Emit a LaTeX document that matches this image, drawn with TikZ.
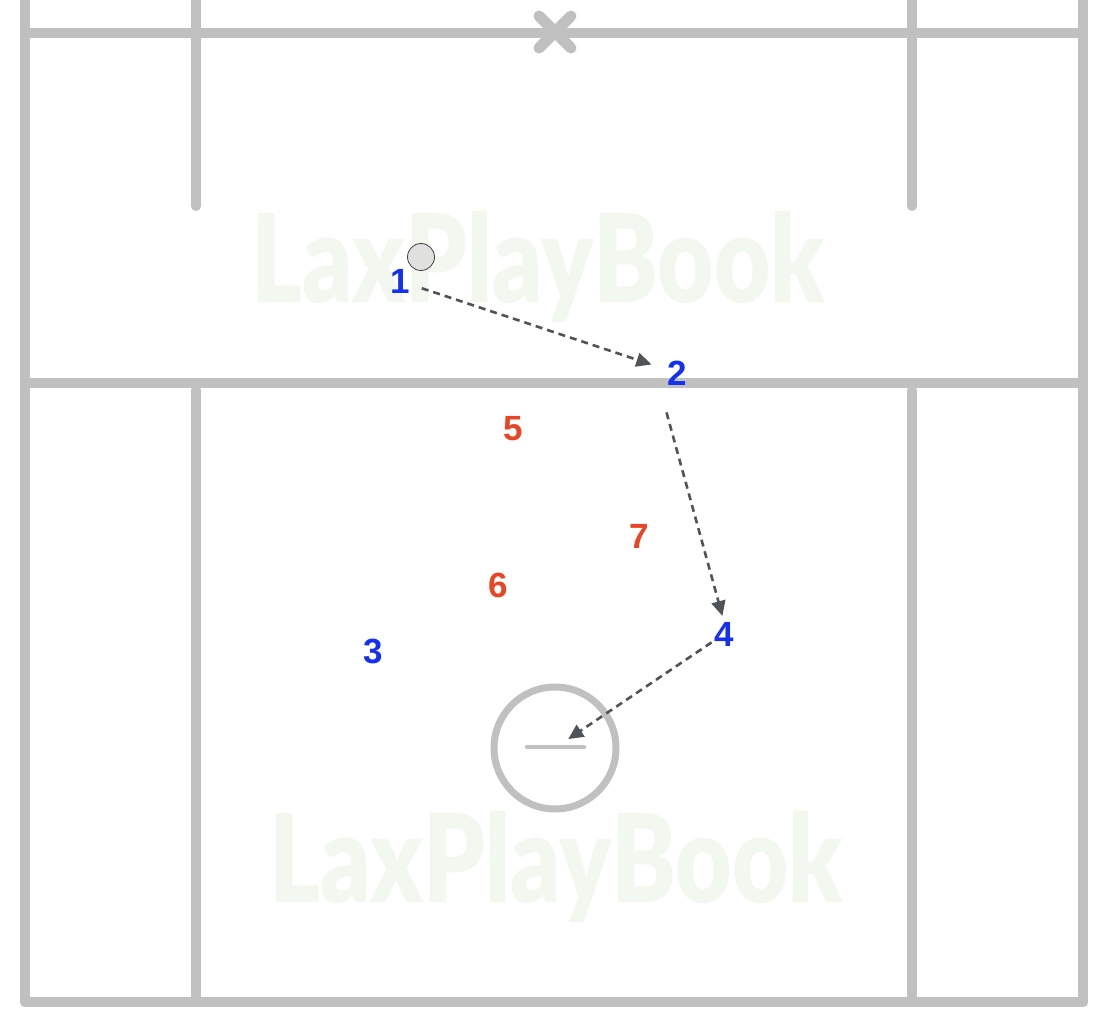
\documentclass[tikz,border=0pt]{standalone}
\usepackage{fontspec}
\setmainfont{Liberation Sans}
\newfontfamily\heavysans{Liberation Sans Bold}
\newfontfamily\wmfont{Lato Black}
\usetikzlibrary{arrows.meta}
\definecolor{fieldgray}{HTML}{C0C0C0}
\definecolor{wmgreen}{HTML}{F2F7F0}
\definecolor{pblue}{HTML}{1530F0}
\definecolor{pred}{HTML}{E84525}
\definecolor{arrgray}{HTML}{505458}
\definecolor{ballgray}{HTML}{E0E1DF}
\tikzset{
  field/.style={draw=fieldgray, line width=10pt, line cap=round},
  watermark/.style={text=wmgreen, font=\wmfont\fontsize{122}{122}\selectfont, inner sep=0pt},
  offense/.style={text=pblue, font=\heavysans\fontsize{35}{35}\selectfont, inner sep=0pt},
  defense/.style={text=pred, font=\heavysans\fontsize{35}{35}\selectfont, inner sep=0pt},
  pass/.style={draw=arrgray, line width=2.6pt, dash pattern=on 7pt off 5pt,
    -{Triangle[length=15pt,width=14pt]}},
}
\begin{document}
\begin{tikzpicture}[x=1pt,y=-1pt]
\useasboundingbox (0,0) rectangle (1104,1016);
\fill[white] (0,0) rectangle (1104,1016);
% watermarks
\node[watermark] (wm1) at (538,267) {\resizebox{573pt}{\height}{LaxPlayBook}};
\node[watermark] (wm2) at (556,867) {\resizebox{573pt}{\height}{LaxPlayBook}};
% field
\draw[field] (25,0) -- (25,1002);
\draw[field] (1083,0) -- (1083,1002);
\draw[field] (25,33) -- (1083,33);
\draw[field] (25,383) -- (1083,383);
\draw[field] (25,1002) -- (1083,1002);
\draw[field] (196,0) -- (196,206);
\draw[field] (912,0) -- (912,206);
\draw[field] (196,390) -- (196,1000);
\draw[field] (912,390) -- (912,1000);
% X at top
\draw[draw=fieldgray, line width=11pt, line cap=round] (539,16) -- (571,48);
\draw[draw=fieldgray, line width=11pt, line cap=round] (539,48) -- (571,16);
% goal
\node[draw=fieldgray, line width=7pt, circle, minimum size=122pt, inner sep=0pt] (goal) at (555,748) {};
\draw[draw=fieldgray, line width=4.5pt, line cap=round] (527,747) -- (584,747);
% ball
\node[circle, draw=black!75, line width=0.8pt, fill=ballgray, minimum size=27pt, inner sep=0pt] (ball) at (421,257) {};
% players
\node[offense] (p1) at (400,281) {1};
\node[offense] (p2) at (677,373) {2};
\node[offense] (p3) at (373,651) {3};
\node[offense] (p4) at (724,634) {4};
\node[defense] (p5) at (513,429) {5};
\node[defense] (p6) at (498,585) {6};
\node[defense] (p7) at (639,536) {7};
% passes
\draw[pass, shorten <=23pt, shorten >=27pt] (p1.center) -- (p2.center);
\draw[pass, shorten <=28pt, shorten >=6pt] ([xshift=-8pt]p2.south west) -- (p4.north);
\draw[pass, shorten <=15pt, shorten >=16pt] (p4.center) -- (goal.center);
\end{tikzpicture}
\end{document}
